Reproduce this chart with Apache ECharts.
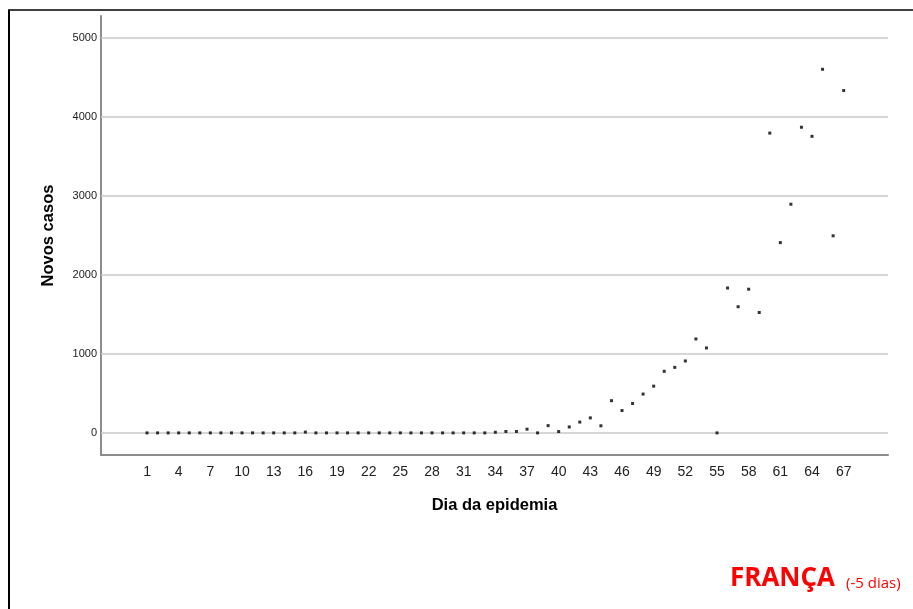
<!DOCTYPE html>
<html>
<head>
<meta charset="utf-8">
<script src="https://cdn.jsdelivr.net/npm/echarts@6/dist/echarts.min.js"></script>
<style>html,body{margin:0;padding:0;background:#fff}#c{width:913px;height:609px}</style>
</head>
<body>
<div id="c"></div>
<script>
const days = Array.from({length: 67}, (_, i) => i + 1);
const newCases = [
  0, 0, 0, 0, 0, 0, 0, 0, 0, 0,
  0, 0, 0, 0, 0, 10, 0, 0, 0, 0,
  0, 0, 0, 0, 0, 0, 0, 0, 0, 0,
  0, 0, 0, 8, 18, 18, 47, 0, 92, 17,
  75, 137, 190, 90, 408, 283, 372, 492, 592, 780,
  830, 911, 1190, 1076, 0, 1835, 1598, 1820, 1525, 3797,
  2410, 2896, 3871, 3756, 4605, 2496, 4336
];
const xTickLabels = [1, 4, 7, 10, 13, 16, 19, 22, 25, 28, 31, 34, 37, 40, 43, 46, 49, 52, 55, 58, 61, 64, 67];
const yTickValues = [0, 1000, 2000, 3000, 4000, 5000];

const chart = echarts.init(document.getElementById('c'), null, {renderer: 'canvas'});
chart.setOption({
  animation: false,
  backgroundColor: '#fff',
  grid: {left: 101, right: 25, top: 16, bottom: 154, containLabel: false},
  xAxis: {
    type: 'value', min: -3.36, max: 71.2,
    name: 'Dia da epidemia', nameLocation: 'middle', nameGap: 42,
    nameTextStyle: {fontFamily: 'Liberation Sans', fontWeight: 'bold', fontSize: 16.5, color: '#000'},
    axisLine: {show: true, onZero: false, lineStyle: {color: '#8c8c8c', width: 2}},
    axisTick: {show: false},
    splitLine: {show: false},
    axisLabel: {customValues: xTickLabels, formatter: v => String(v), fontFamily: 'Liberation Sans', fontSize: 14, color: '#222', margin: 10}
  },
  yAxis: {
    type: 'value', min: -280, max: 5280,
    name: 'Novos casos', nameLocation: 'middle', nameGap: 44, nameRotate: 90,
    nameTextStyle: {fontFamily: 'Liberation Sans', fontWeight: 'bold', fontSize: 16.5, color: '#000'},
    axisLine: {show: true, onZero: false, lineStyle: {color: '#8c8c8c', width: 2}},
    axisTick: {show: false, customValues: yTickValues},
    splitLine: {show: false},
    axisLabel: {customValues: yTickValues, formatter: v => String(v), fontFamily: 'Liberation Sans', fontSize: 11, color: '#222', margin: 4}
  },
  series: [{
    type: 'scatter',
    data: days.map((d, i) => [d, newCases[i]]),
    symbol: 'rect', symbolSize: 3,
    itemStyle: {color: '#000'},
    markLine: {
      silent: true, symbol: 'none', label: {show: false},
      lineStyle: {color: '#c8c8c8', width: 1.5, type: 'solid'},
      data: yTickValues.map(v => ({yAxis: v}))
    },
    z: 5
  }],
  graphic: [
    {type: 'line', shape: {x1: 8, y1: 10, x2: 913, y2: 10}, style: {stroke: '#000', lineWidth: 1.5}},
    {type: 'line', shape: {x1: 9, y1: 10, x2: 9, y2: 609}, style: {stroke: '#000', lineWidth: 2}},
    {type: 'text', left: 730, top: 566, style: {text: 'FRANÇA', fill: '#ff0000', font: 'bold 26px "Open Sans", "Liberation Sans", sans-serif'}},
    {type: 'text', left: 846, top: 576, style: {text: '(-5 dias)', fill: '#ff0000', font: '15px "Open Sans", "Liberation Sans", sans-serif'}}
  ]
});
</script>
</body>
</html>
